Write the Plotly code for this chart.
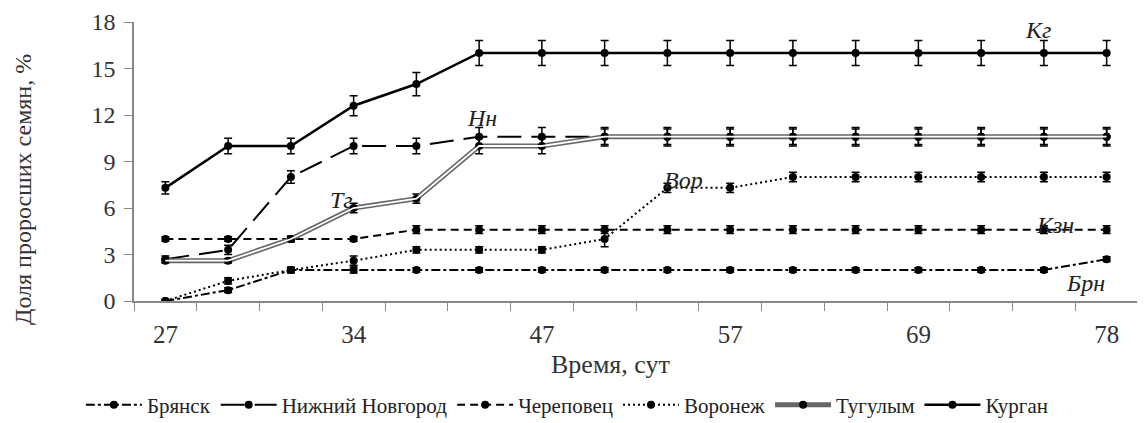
import plotly.graph_objects as go

days = [27, 29, 31, 34, 38, 42, 47, 50, 54, 57, 61, 65, 69, 72, 75, 78]
tick_labels = ["27", "34", "47", "57", "69", "78"]
tick_idx = [0, 3, 6, 9, 12, 15]

bryansk = [0, 0.7, 2, 2, 2, 2, 2, 2, 2, 2, 2, 2, 2, 2, 2, 2.7]
bryansk_err = [0.1, 0.15, 0.15, 0.2, 0.15, 0.15, 0.15, 0.15, 0.15, 0.15, 0.15, 0.15, 0.15, 0.15, 0.15, 0.15]
nnov = [2.7, 3.3, 8, 10, 10, 10.6, 10.6, 10.6, 10.6, 10.6, 10.6, 10.6, 10.6, 10.6, 10.6, 10.6]
nnov_err = [0.2, 0.3, 0.4, 0.5, 0.5, 0.6, 0.6, 0.6, 0.6, 0.6, 0.6, 0.6, 0.6, 0.6, 0.6, 0.6]
cherep = [4, 4, 4, 4, 4.6, 4.6, 4.6, 4.6, 4.6, 4.6, 4.6, 4.6, 4.6, 4.6, 4.6, 4.6]
cherep_err = [0.15, 0.15, 0.15, 0.15, 0.25, 0.25, 0.25, 0.25, 0.25, 0.25, 0.25, 0.25, 0.25, 0.25, 0.25, 0.25]
voronezh = [0, 1.3, 2, 2.6, 3.3, 3.3, 3.3, 4, 7.3, 7.3, 8, 8, 8, 8, 8, 8]
voronezh_err = [0.1, 0.2, 0.2, 0.3, 0.2, 0.2, 0.2, 0.5, 0.3, 0.3, 0.3, 0.3, 0.3, 0.3, 0.3, 0.3]
tugulym = [2.6, 2.6, 4, 6, 6.6, 10, 10, 10.6, 10.6, 10.6, 10.6, 10.6, 10.6, 10.6, 10.6, 10.6]
tugulym_err = [0.15, 0.15, 0.2, 0.3, 0.3, 0.5, 0.5, 0.5, 0.5, 0.5, 0.5, 0.5, 0.5, 0.5, 0.5, 0.5]
kurgan = [7.3, 10, 10, 12.6, 14, 16, 16, 16, 16, 16, 16, 16, 16, 16, 16, 16]
kurgan_err = [0.4, 0.5, 0.5, 0.65, 0.75, 0.8, 0.8, 0.8, 0.8, 0.8, 0.8, 0.8, 0.8, 0.8, 0.8, 0.8]

labels_txt = ["Кг", "Нн", "Тг", "Вор", "Кзн", "Брн"]
labels_x = [13.9, 5.05, 2.8, 8.25, 14.18, 14.66]
labels_y = [17.5, 11.8, 6.5, 7.8, 4.9, 1.15]

x_title = "Время, сут"
y_title = "Доля проросших семян, %"

FONT = "Liberation Serif"
x = list(range(len(days)))

fig = go.Figure()

def err(e):
    return dict(type="data", array=e, visible=True, color="black", thickness=1.5, width=4)

def add(name, y, e, dash, width=2, color="black"):
    fig.add_trace(go.Scatter(
        x=x, y=y, name=name, mode="lines+markers",
        line=dict(color=color, width=width, dash=dash),
        marker=dict(color="black", size=8),
        error_y=err(e),
    ))

add("Брянск", bryansk, bryansk_err, "dashdot")
add("Нижний Новгород", nnov, nnov_err, "24px,10px")
add("Череповец", cherep, cherep_err, "8px,5px")
add("Воронеж", voronezh, voronezh_err, "2px,3px")
fig.add_trace(go.Scatter(
    x=x, y=tugulym, name="Тугулым", mode="lines+markers",
    line=dict(color="#666666", width=5),
    marker=dict(color="black", size=8),
    error_y=err(tugulym_err), legendgroup="tg",
))
fig.add_trace(go.Scatter(
    x=x, y=tugulym, name="Тугулым", mode="lines",
    line=dict(color="white", width=1.8),
    showlegend=False, legendgroup="tg", hoverinfo="skip",
))
add("Курган", kurgan, kurgan_err, "solid", width=2.5)

for t, lx, ly in zip(labels_txt, labels_x, labels_y):
    fig.add_annotation(x=lx, y=ly, text=t, showarrow=False,
                       font=dict(family=FONT, size=24, color="#222222", style="italic"))

# axis titles (placed as in the reference)
fig.add_annotation(xref="paper", yref="paper", x=0.475, y=-0.226, text=x_title,
                   showarrow=False, xanchor="center", yanchor="middle",
                   font=dict(family=FONT, size=26, color="#333333"))
fig.add_annotation(xref="paper", yref="paper", x=-0.11, y=0.40, text=y_title,
                   showarrow=False, xanchor="center", yanchor="middle", textangle=-90,
                   font=dict(family=FONT, size=24, color="#333333"))

fig.update_layout(
    width=1137, height=415,
    margin=dict(l=126, r=7, t=14, b=122, autoexpand=False),
    paper_bgcolor="white", plot_bgcolor="white",
    font=dict(family=FONT, size=24, color="#333333"),
    showlegend=True,
    legend=dict(orientation="h", xref="container", yref="container",
                x=0.492, xanchor="center", y=0.043, yanchor="middle",
                font=dict(family=FONT, size=21, color="#222222"),
                itemwidth=56, tracegroupgap=0),
)
fig.update_xaxes(
    range=[-0.5, 15.5], tickmode="array", tickvals=tick_idx, ticktext=tick_labels,
    ticks="", showgrid=False, zeroline=False,
    showline=True, linecolor="#888888", linewidth=1.5,
    minor=dict(tickmode="linear", tick0=-0.5, dtick=1, ticks="outside",
               ticklen=8, tickcolor="#888888", tickwidth=1, showgrid=False),
    tickfont=dict(size=25), ticklabelstandoff=10,
)
fig.update_yaxes(
    range=[0, 18], tickmode="array", tickvals=[0, 3, 6, 9, 12, 15, 18],
    ticks="outside", ticklen=8, tickcolor="#888888", tickwidth=1,
    showgrid=False, zeroline=False,
    showline=True, linecolor="#888888", linewidth=1.5,
    tickfont=dict(size=24), ticklabelstandoff=4,
)

fig.write_html("out.html")
